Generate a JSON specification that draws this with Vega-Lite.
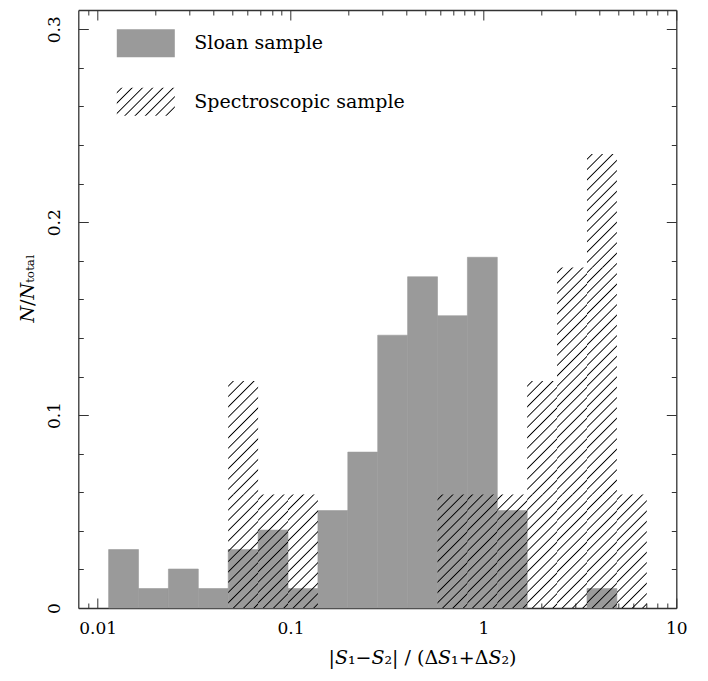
{
  "$schema": "https://vega.github.io/schema/vega-lite/v6.json",
  "width": 598,
  "height": 598,
  "autosize": {"type": "none"},
  "padding": {"left": 78.3, "top": 10, "right": 31.7, "bottom": 73},
  "background": "white",
  "config": {
    "view": {"stroke": null},
    "axis": {
      "domainColor": "#333", "domainWidth": 1.3,
      "tickColor": "#333", "tickWidth": 1,
      "labelFont": "DejaVu Serif", "labelFontSize": 17, "labelColor": "#000",
      "titleFont": "DejaVu Serif", "titleFontSize": 19, "titleFontWeight": "normal", "titleColor": "#000",
      "grid": false, "zindex": 1, "labelFlush": false, "labelOverlap": false, "labelBound": false
    },
    "legend": {
      "orient": "none", "title": null,
      "symbolType": "M-1,-0.4828H1V0.4828H-1Z", "symbolSize": 3364,
      "symbolStrokeWidth": 0, "symbolOpacity": 1,
      "labelFont": "DejaVu Serif", "labelFontSize": 19, "labelColor": "#000",
      "labelOffset": 19.5, "padding": 0, "labelLimit": 400
    }
  },
  "data": {
    "values": [
      {"sample": "Sloan sample", "lo": 0.011402, "hi": 0.016293, "frac": 0.030303},
      {"sample": "Sloan sample", "lo": 0.016293, "hi": 0.023281, "frac": 0.010101},
      {"sample": "Sloan sample", "lo": 0.023281, "hi": 0.033266, "frac": 0.020202},
      {"sample": "Sloan sample", "lo": 0.033266, "hi": 0.047534, "frac": 0.010101},
      {"sample": "Sloan sample", "lo": 0.047534, "hi": 0.06792, "frac": 0.030303},
      {"sample": "Sloan sample", "lo": 0.06792, "hi": 0.09705, "frac": 0.040404},
      {"sample": "Sloan sample", "lo": 0.09705, "hi": 0.13868, "frac": 0.010101},
      {"sample": "Sloan sample", "lo": 0.13868, "hi": 0.19815, "frac": 0.050505},
      {"sample": "Sloan sample", "lo": 0.19815, "hi": 0.28314, "frac": 0.080808},
      {"sample": "Sloan sample", "lo": 0.28314, "hi": 0.40458, "frac": 0.141414},
      {"sample": "Sloan sample", "lo": 0.40458, "hi": 0.5781, "frac": 0.171717},
      {"sample": "Sloan sample", "lo": 0.5781, "hi": 0.82604, "frac": 0.151515},
      {"sample": "Sloan sample", "lo": 0.82604, "hi": 1.1803, "frac": 0.181818},
      {"sample": "Sloan sample", "lo": 1.1803, "hi": 1.6866, "frac": 0.050505},
      {"sample": "Sloan sample", "lo": 3.4435, "hi": 4.9204, "frac": 0.010101},
      {"sample": "Spectroscopic sample", "lo": 0.047534, "hi": 0.06792, "frac": 0.117647},
      {"sample": "Spectroscopic sample", "lo": 0.06792, "hi": 0.09705, "frac": 0.058824},
      {"sample": "Spectroscopic sample", "lo": 0.09705, "hi": 0.13868, "frac": 0.058824},
      {"sample": "Spectroscopic sample", "lo": 0.5781, "hi": 0.82604, "frac": 0.058824},
      {"sample": "Spectroscopic sample", "lo": 0.82604, "hi": 1.1803, "frac": 0.058824},
      {"sample": "Spectroscopic sample", "lo": 1.1803, "hi": 1.6866, "frac": 0.058824},
      {"sample": "Spectroscopic sample", "lo": 1.6866, "hi": 2.4099, "frac": 0.117647},
      {"sample": "Spectroscopic sample", "lo": 2.4099, "hi": 3.4435, "frac": 0.176471},
      {"sample": "Spectroscopic sample", "lo": 3.4435, "hi": 4.9204, "frac": 0.235294},
      {"sample": "Spectroscopic sample", "lo": 4.9204, "hi": 7.0307, "frac": 0.058824}
    ]
  },
  "layer": [
    {
      "transform": [{"filter": "datum.sample === 'Sloan sample'"}],
      "mark": {"type": "rect", "stroke": "#9a9a9a", "strokeWidth": 0.6},
      "encoding": {
        "x": {
          "field": "lo", "type": "quantitative",
          "scale": {"type": "log", "domain": [0.00794, 10], "nice": false},
          "axis": {
            "orient": "bottom",
            "title": "|𝑆₁−𝑆₂|  /  (Δ𝑆₁+Δ𝑆₂)",
            "values": [0.009,0.01,0.02,0.03,0.04,0.05,0.06,0.07,0.08,0.09,0.1,0.2,0.3,0.4,0.5,0.6,0.7,0.8,0.9,1,2,3,4,5,6,7,8,9,10],
            "labelExpr": "datum.value == 0.01 ? '0.01' : datum.value == 0.1 ? '0.1' : datum.value == 1 ? '1' : datum.value == 10 ? '10' : ''",
            "tickSize": {"condition": {"test": "indexof([0.01,0.1,1,10], datum.value) >= 0", "value": -10}, "value": -5},
            "labelBaseline": "top",
            "labelPadding": 22,
            "titleX": 249.7, "titleY": 55.3, "titleAlign": "left", "titleBaseline": "alphabetic", "titleAnchor": null
          }
        },
        "x2": {"field": "hi"},
        "y": {
          "field": "frac", "type": "quantitative",
          "scale": {"domain": [0, 0.31], "nice": false, "zero": false},
          "axis": {
            "orient": "left",
            "title": "𝑁/𝑁ₜₒₜₐₗ",
            "values": [0,0.02,0.04,0.06,0.08,0.1,0.12,0.14,0.16,0.18,0.2,0.22,0.24,0.26,0.28,0.3],
            "labelExpr": "round(datum.value*100) % 10 == 0 ? format(datum.value, '~g') : ''",
            "tickSize": {"condition": {"test": "round(datum.value*100) % 10 == 0", "value": -10}, "value": -5},
            "labelAngle": -90, "labelAlign": "center", "labelBaseline": "bottom",
            "labelPadding": 25.3,
            "titleAngle": -90, "titleX": -45, "titleY": 312, "titleAlign": "left", "titleBaseline": "alphabetic", "titleAnchor": null
          }
        },
        "y2": {"datum": 0},
        "color": {
          "field": "sample", "type": "nominal",
          "scale": {"domain": ["Sloan sample"], "range": ["#9a9a9a"]},
          "legend": {"legendX": 38.5, "legendY": 4.2}
        }
      }
    },
    {
      "transform": [{"filter": "datum.sample === 'Spectroscopic sample'"}],
      "encoding": {
        "x": {
          "field": "lo", "type": "quantitative",
          "scale": {"type": "log", "domain": [0.00794, 10], "nice": false},
          "axis": {
            "orient": "top", "title": null, "labels": false,
            "values": [0.009,0.01,0.02,0.03,0.04,0.05,0.06,0.07,0.08,0.09,0.1,0.2,0.3,0.4,0.5,0.6,0.7,0.8,0.9,1,2,3,4,5,6,7,8,9,10],
            "tickSize": {"condition": {"test": "indexof([0.01,0.1,1,10], datum.value) >= 0", "value": -10}, "value": -5}
          }
        },
        "x2": {"field": "hi"}
      },
      "layer": [
        {
          "transform": [{"filter": "datum.frac > 0.0294"}],
          "mark": {"type": "rect", "strokeWidth": 0, "fill": {"gradient": "linear", "id": "hatchbar", "x1": 0, "y1": 0, "x2": 0.3113, "y2": 1.18145, "stops": [
            {"offset": 0.02688, "color": "rgba(0,0,0,0)"}, {"offset": 0.03598, "color": "#000"}, {"offset": 0.04508, "color": "rgba(0,0,0,0)"},
            {"offset": 0.09883, "color": "rgba(0,0,0,0)"}, {"offset": 0.10793, "color": "#000"}, {"offset": 0.11703, "color": "rgba(0,0,0,0)"},
            {"offset": 0.17078, "color": "rgba(0,0,0,0)"}, {"offset": 0.17988, "color": "#000"}, {"offset": 0.18898, "color": "rgba(0,0,0,0)"},
            {"offset": 0.24273, "color": "rgba(0,0,0,0)"}, {"offset": 0.25183, "color": "#000"}, {"offset": 0.26093, "color": "rgba(0,0,0,0)"},
            {"offset": 0.31468, "color": "rgba(0,0,0,0)"}, {"offset": 0.32378, "color": "#000"}, {"offset": 0.33288, "color": "rgba(0,0,0,0)"},
            {"offset": 0.38663, "color": "rgba(0,0,0,0)"}, {"offset": 0.39573, "color": "#000"}, {"offset": 0.40483, "color": "rgba(0,0,0,0)"},
            {"offset": 0.45858, "color": "rgba(0,0,0,0)"}, {"offset": 0.46768, "color": "#000"}, {"offset": 0.47678, "color": "rgba(0,0,0,0)"},
            {"offset": 0.53053, "color": "rgba(0,0,0,0)"}, {"offset": 0.53963, "color": "#000"}, {"offset": 0.54873, "color": "rgba(0,0,0,0)"},
            {"offset": 0.60248, "color": "rgba(0,0,0,0)"}, {"offset": 0.61158, "color": "#000"}, {"offset": 0.62068, "color": "rgba(0,0,0,0)"},
            {"offset": 0.67444, "color": "rgba(0,0,0,0)"}, {"offset": 0.68354, "color": "#000"}, {"offset": 0.69264, "color": "rgba(0,0,0,0)"},
            {"offset": 0.74639, "color": "rgba(0,0,0,0)"}, {"offset": 0.75549, "color": "#000"}, {"offset": 0.76459, "color": "rgba(0,0,0,0)"},
            {"offset": 0.81834, "color": "rgba(0,0,0,0)"}, {"offset": 0.82744, "color": "#000"}, {"offset": 0.83654, "color": "rgba(0,0,0,0)"},
            {"offset": 0.89029, "color": "rgba(0,0,0,0)"}, {"offset": 0.89939, "color": "#000"}, {"offset": 0.90849, "color": "rgba(0,0,0,0)"},
            {"offset": 0.96224, "color": "rgba(0,0,0,0)"}, {"offset": 0.97134, "color": "#000"}, {"offset": 0.98044, "color": "rgba(0,0,0,0)"}
          ]}},
          "encoding": {
            "y": {"datum": 0.05882353, "type": "quantitative", "scale": {"domain": [0, 0.31], "nice": false, "zero": false},
              "axis": {"orient": "right", "title": null, "labels": false,
                "values": [0,0.02,0.04,0.06,0.08,0.1,0.12,0.14,0.16,0.18,0.2,0.22,0.24,0.26,0.28,0.3],
                "tickSize": {"condition": {"test": "round(datum.value*100) % 10 == 0", "value": -10}, "value": -5}}},
            "y2": {"datum": 0}
          }
        },
        {
          "transform": [{"filter": "datum.frac > 0.0882"}],
          "mark": {"type": "rect", "strokeWidth": 0, "fill": {"gradient": "linear", "id": "hatchbar", "x1": 0, "y1": 0, "x2": 0.3113, "y2": 1.18145, "stops": [
            {"offset": 0.02688, "color": "rgba(0,0,0,0)"}, {"offset": 0.03598, "color": "#000"}, {"offset": 0.04508, "color": "rgba(0,0,0,0)"},
            {"offset": 0.09883, "color": "rgba(0,0,0,0)"}, {"offset": 0.10793, "color": "#000"}, {"offset": 0.11703, "color": "rgba(0,0,0,0)"},
            {"offset": 0.17078, "color": "rgba(0,0,0,0)"}, {"offset": 0.17988, "color": "#000"}, {"offset": 0.18898, "color": "rgba(0,0,0,0)"},
            {"offset": 0.24273, "color": "rgba(0,0,0,0)"}, {"offset": 0.25183, "color": "#000"}, {"offset": 0.26093, "color": "rgba(0,0,0,0)"},
            {"offset": 0.31468, "color": "rgba(0,0,0,0)"}, {"offset": 0.32378, "color": "#000"}, {"offset": 0.33288, "color": "rgba(0,0,0,0)"},
            {"offset": 0.38663, "color": "rgba(0,0,0,0)"}, {"offset": 0.39573, "color": "#000"}, {"offset": 0.40483, "color": "rgba(0,0,0,0)"},
            {"offset": 0.45858, "color": "rgba(0,0,0,0)"}, {"offset": 0.46768, "color": "#000"}, {"offset": 0.47678, "color": "rgba(0,0,0,0)"},
            {"offset": 0.53053, "color": "rgba(0,0,0,0)"}, {"offset": 0.53963, "color": "#000"}, {"offset": 0.54873, "color": "rgba(0,0,0,0)"},
            {"offset": 0.60248, "color": "rgba(0,0,0,0)"}, {"offset": 0.61158, "color": "#000"}, {"offset": 0.62068, "color": "rgba(0,0,0,0)"},
            {"offset": 0.67444, "color": "rgba(0,0,0,0)"}, {"offset": 0.68354, "color": "#000"}, {"offset": 0.69264, "color": "rgba(0,0,0,0)"},
            {"offset": 0.74639, "color": "rgba(0,0,0,0)"}, {"offset": 0.75549, "color": "#000"}, {"offset": 0.76459, "color": "rgba(0,0,0,0)"},
            {"offset": 0.81834, "color": "rgba(0,0,0,0)"}, {"offset": 0.82744, "color": "#000"}, {"offset": 0.83654, "color": "rgba(0,0,0,0)"},
            {"offset": 0.89029, "color": "rgba(0,0,0,0)"}, {"offset": 0.89939, "color": "#000"}, {"offset": 0.90849, "color": "rgba(0,0,0,0)"},
            {"offset": 0.96224, "color": "rgba(0,0,0,0)"}, {"offset": 0.97134, "color": "#000"}, {"offset": 0.98044, "color": "rgba(0,0,0,0)"}
          ]}},
          "encoding": {
            "y": {"datum": 0.11764706, "type": "quantitative", "scale": {"domain": [0, 0.31], "nice": false, "zero": false},
              "axis": {"orient": "right", "title": null, "labels": false,
                "values": [0,0.02,0.04,0.06,0.08,0.1,0.12,0.14,0.16,0.18,0.2,0.22,0.24,0.26,0.28,0.3],
                "tickSize": {"condition": {"test": "round(datum.value*100) % 10 == 0", "value": -10}, "value": -5}}},
            "y2": {"datum": 0.05882353}
          }
        },
        {
          "transform": [{"filter": "datum.frac > 0.1471"}],
          "mark": {"type": "rect", "strokeWidth": 0, "fill": {"gradient": "linear", "id": "hatchbar", "x1": 0, "y1": 0, "x2": 0.3113, "y2": 1.18145, "stops": [
            {"offset": 0.02688, "color": "rgba(0,0,0,0)"}, {"offset": 0.03598, "color": "#000"}, {"offset": 0.04508, "color": "rgba(0,0,0,0)"},
            {"offset": 0.09883, "color": "rgba(0,0,0,0)"}, {"offset": 0.10793, "color": "#000"}, {"offset": 0.11703, "color": "rgba(0,0,0,0)"},
            {"offset": 0.17078, "color": "rgba(0,0,0,0)"}, {"offset": 0.17988, "color": "#000"}, {"offset": 0.18898, "color": "rgba(0,0,0,0)"},
            {"offset": 0.24273, "color": "rgba(0,0,0,0)"}, {"offset": 0.25183, "color": "#000"}, {"offset": 0.26093, "color": "rgba(0,0,0,0)"},
            {"offset": 0.31468, "color": "rgba(0,0,0,0)"}, {"offset": 0.32378, "color": "#000"}, {"offset": 0.33288, "color": "rgba(0,0,0,0)"},
            {"offset": 0.38663, "color": "rgba(0,0,0,0)"}, {"offset": 0.39573, "color": "#000"}, {"offset": 0.40483, "color": "rgba(0,0,0,0)"},
            {"offset": 0.45858, "color": "rgba(0,0,0,0)"}, {"offset": 0.46768, "color": "#000"}, {"offset": 0.47678, "color": "rgba(0,0,0,0)"},
            {"offset": 0.53053, "color": "rgba(0,0,0,0)"}, {"offset": 0.53963, "color": "#000"}, {"offset": 0.54873, "color": "rgba(0,0,0,0)"},
            {"offset": 0.60248, "color": "rgba(0,0,0,0)"}, {"offset": 0.61158, "color": "#000"}, {"offset": 0.62068, "color": "rgba(0,0,0,0)"},
            {"offset": 0.67444, "color": "rgba(0,0,0,0)"}, {"offset": 0.68354, "color": "#000"}, {"offset": 0.69264, "color": "rgba(0,0,0,0)"},
            {"offset": 0.74639, "color": "rgba(0,0,0,0)"}, {"offset": 0.75549, "color": "#000"}, {"offset": 0.76459, "color": "rgba(0,0,0,0)"},
            {"offset": 0.81834, "color": "rgba(0,0,0,0)"}, {"offset": 0.82744, "color": "#000"}, {"offset": 0.83654, "color": "rgba(0,0,0,0)"},
            {"offset": 0.89029, "color": "rgba(0,0,0,0)"}, {"offset": 0.89939, "color": "#000"}, {"offset": 0.90849, "color": "rgba(0,0,0,0)"},
            {"offset": 0.96224, "color": "rgba(0,0,0,0)"}, {"offset": 0.97134, "color": "#000"}, {"offset": 0.98044, "color": "rgba(0,0,0,0)"}
          ]}},
          "encoding": {
            "y": {"datum": 0.17647059, "type": "quantitative", "scale": {"domain": [0, 0.31], "nice": false, "zero": false},
              "axis": {"orient": "right", "title": null, "labels": false,
                "values": [0,0.02,0.04,0.06,0.08,0.1,0.12,0.14,0.16,0.18,0.2,0.22,0.24,0.26,0.28,0.3],
                "tickSize": {"condition": {"test": "round(datum.value*100) % 10 == 0", "value": -10}, "value": -5}}},
            "y2": {"datum": 0.11764706}
          }
        },
        {
          "transform": [{"filter": "datum.frac > 0.2059"}],
          "mark": {"type": "rect", "strokeWidth": 0, "fill": {"gradient": "linear", "id": "hatchbar", "x1": 0, "y1": 0, "x2": 0.3113, "y2": 1.18145, "stops": [
            {"offset": 0.02688, "color": "rgba(0,0,0,0)"}, {"offset": 0.03598, "color": "#000"}, {"offset": 0.04508, "color": "rgba(0,0,0,0)"},
            {"offset": 0.09883, "color": "rgba(0,0,0,0)"}, {"offset": 0.10793, "color": "#000"}, {"offset": 0.11703, "color": "rgba(0,0,0,0)"},
            {"offset": 0.17078, "color": "rgba(0,0,0,0)"}, {"offset": 0.17988, "color": "#000"}, {"offset": 0.18898, "color": "rgba(0,0,0,0)"},
            {"offset": 0.24273, "color": "rgba(0,0,0,0)"}, {"offset": 0.25183, "color": "#000"}, {"offset": 0.26093, "color": "rgba(0,0,0,0)"},
            {"offset": 0.31468, "color": "rgba(0,0,0,0)"}, {"offset": 0.32378, "color": "#000"}, {"offset": 0.33288, "color": "rgba(0,0,0,0)"},
            {"offset": 0.38663, "color": "rgba(0,0,0,0)"}, {"offset": 0.39573, "color": "#000"}, {"offset": 0.40483, "color": "rgba(0,0,0,0)"},
            {"offset": 0.45858, "color": "rgba(0,0,0,0)"}, {"offset": 0.46768, "color": "#000"}, {"offset": 0.47678, "color": "rgba(0,0,0,0)"},
            {"offset": 0.53053, "color": "rgba(0,0,0,0)"}, {"offset": 0.53963, "color": "#000"}, {"offset": 0.54873, "color": "rgba(0,0,0,0)"},
            {"offset": 0.60248, "color": "rgba(0,0,0,0)"}, {"offset": 0.61158, "color": "#000"}, {"offset": 0.62068, "color": "rgba(0,0,0,0)"},
            {"offset": 0.67444, "color": "rgba(0,0,0,0)"}, {"offset": 0.68354, "color": "#000"}, {"offset": 0.69264, "color": "rgba(0,0,0,0)"},
            {"offset": 0.74639, "color": "rgba(0,0,0,0)"}, {"offset": 0.75549, "color": "#000"}, {"offset": 0.76459, "color": "rgba(0,0,0,0)"},
            {"offset": 0.81834, "color": "rgba(0,0,0,0)"}, {"offset": 0.82744, "color": "#000"}, {"offset": 0.83654, "color": "rgba(0,0,0,0)"},
            {"offset": 0.89029, "color": "rgba(0,0,0,0)"}, {"offset": 0.89939, "color": "#000"}, {"offset": 0.90849, "color": "rgba(0,0,0,0)"},
            {"offset": 0.96224, "color": "rgba(0,0,0,0)"}, {"offset": 0.97134, "color": "#000"}, {"offset": 0.98044, "color": "rgba(0,0,0,0)"}
          ]}},
          "encoding": {
            "y": {"datum": 0.23529412, "type": "quantitative", "scale": {"domain": [0, 0.31], "nice": false, "zero": false},
              "axis": {"orient": "right", "title": null, "labels": false,
                "values": [0,0.02,0.04,0.06,0.08,0.1,0.12,0.14,0.16,0.18,0.2,0.22,0.24,0.26,0.28,0.3],
                "tickSize": {"condition": {"test": "round(datum.value*100) % 10 == 0", "value": -10}, "value": -5}}},
            "y2": {"datum": 0.17647059}
          }
        },
        {
          "transform": [{"filter": "false"}],
          "mark": {"type": "rect", "strokeWidth": 0, "fill": {"gradient": "linear", "id": "hatchlegend", "x1": 0, "y1": 0, "x2": 1.2025, "y2": 0.58052, "stops": [
            {"offset": 0.04476, "color": "rgba(0,0,0,0)"}, {"offset": 0.05988, "color": "#000"}, {"offset": 0.075, "color": "rgba(0,0,0,0)"},
            {"offset": 0.16453, "color": "rgba(0,0,0,0)"}, {"offset": 0.17965, "color": "#000"}, {"offset": 0.19477, "color": "rgba(0,0,0,0)"},
            {"offset": 0.2843, "color": "rgba(0,0,0,0)"}, {"offset": 0.29942, "color": "#000"}, {"offset": 0.31454, "color": "rgba(0,0,0,0)"},
            {"offset": 0.40407, "color": "rgba(0,0,0,0)"}, {"offset": 0.41919, "color": "#000"}, {"offset": 0.43431, "color": "rgba(0,0,0,0)"},
            {"offset": 0.52383, "color": "rgba(0,0,0,0)"}, {"offset": 0.53895, "color": "#000"}, {"offset": 0.55407, "color": "rgba(0,0,0,0)"},
            {"offset": 0.6436, "color": "rgba(0,0,0,0)"}, {"offset": 0.65872, "color": "#000"}, {"offset": 0.67384, "color": "rgba(0,0,0,0)"},
            {"offset": 0.76337, "color": "rgba(0,0,0,0)"}, {"offset": 0.77849, "color": "#000"}, {"offset": 0.79361, "color": "rgba(0,0,0,0)"},
            {"offset": 0.88314, "color": "rgba(0,0,0,0)"}, {"offset": 0.89826, "color": "#000"}, {"offset": 0.91338, "color": "rgba(0,0,0,0)"}
          ]}},
          "encoding": {
            "y": {"datum": 0, "type": "quantitative", "scale": {"domain": [0, 0.31], "nice": false, "zero": false},
              "axis": {"orient": "right", "title": null, "labels": false,
                "values": [0,0.02,0.04,0.06,0.08,0.1,0.12,0.14,0.16,0.18,0.2,0.22,0.24,0.26,0.28,0.3],
                "tickSize": {"condition": {"test": "round(datum.value*100) % 10 == 0", "value": -10}, "value": -5}}},
            "y2": {"datum": 0},
            "stroke": {
              "field": "sample", "type": "nominal",
              "scale": {"domain": ["Spectroscopic sample"], "range": ["rgba(0,0,0,0)"]},
              "legend": {"legendX": 38.5, "legendY": 62.7}
            }
          }
        }
      ]
    }
  ],
  "resolve": {"axis": {"x": "independent", "y": "independent"}}
}
